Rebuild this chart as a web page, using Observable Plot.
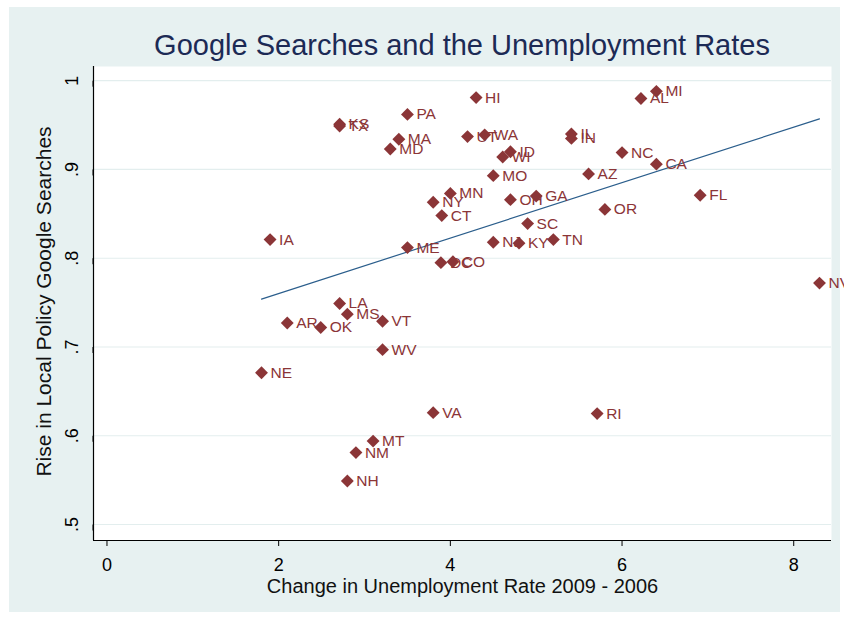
<!DOCTYPE html>
<html>
<head>
<meta charset="utf-8">
<script src="https://cdn.jsdelivr.net/npm/d3@7"></script>
<script src="https://cdn.jsdelivr.net/npm/@observablehq/plot@0.6"></script>
<style>
  body { margin: 0; background: #ffffff; }
  #wrap { position: relative; width: 844px; height: 619px; overflow: hidden; font-family: "Liberation Sans", Arial, sans-serif; }
  #bg { position: absolute; left: 9px; top: 7px; width: 831px; height: 605px; background: #e7f1f1; }
  #title { position: absolute; left: 62px; width: 800px; top: 28px; text-align: center; font-size: 29px; line-height: 34px; color: #1c2a55; }
  #chart { position: absolute; left: 0; top: 0; }
</style>
</head>
<body>
<div id="wrap">
  <div id="bg"></div>
  <div id="chart"></div>
  <div id="title">Google Searches and the Unemployment Rates</div>
</div>
<script>
// State abbreviations
const states = ["NV","MI","AL","HI","PA","KS","TX","MA","MD","UT","WA","ID","WI","MO","MN","NY","CT","OH","GA","SC","IA","ME","NJ","KY","TN","DC","CO","IL","IN","NC","CA","AZ","FL","OR","LA","MS","AR","OK","VT","WV","NE","VA","RI","MT","NM","NH"];
// Change in unemployment rate 2009 - 2006
const unempChange = [8.30,6.40,6.22,4.30,3.50,2.71,2.71,3.40,3.30,4.20,4.40,4.70,4.61,4.50,4.00,3.80,3.90,4.70,5.00,4.90,1.90,3.50,4.50,4.80,5.20,3.89,4.03,5.41,5.41,6.00,6.40,5.61,6.91,5.80,2.71,2.80,2.10,2.49,3.21,3.21,1.80,3.80,5.71,3.10,2.90,2.80];
// Rise in local policy Google searches
const searchRise = [0.772,0.988,0.980,0.981,0.962,0.951,0.949,0.934,0.923,0.937,0.939,0.920,0.914,0.893,0.873,0.863,0.848,0.866,0.870,0.839,0.821,0.812,0.818,0.817,0.821,0.795,0.796,0.940,0.935,0.919,0.906,0.895,0.871,0.855,0.749,0.737,0.727,0.722,0.729,0.697,0.671,0.626,0.625,0.594,0.581,0.549];
// Fitted line end points
const fitX = [1.80, 8.30];
const fitY = [0.754, 0.957];
// Ticks
const xTicks = [0, 2, 4, 6, 8];
const yTicks = [0.5, 0.6, 0.7, 0.8, 0.9, 1];
const yTickLabels = [".5", ".6", ".7", ".8", ".9", "1"];
const xDomain = [-0.157, 8.44];
const yDomain = [0.482, 1.016];

const rows = states.map((s, i) => ({state: s, x: unempChange[i], y: searchRise[i]}));
const fit = fitX.map((x, i) => ({x, y: fitY[i]}));
const markerColor = "#8b3537";

const chart = Plot.plot({
  width: 844,
  height: 619,
  marginLeft: 93,
  marginRight: 13,
  marginTop: 66,
  marginBottom: 79,
  style: { background: "transparent", fontFamily: "'Liberation Sans', Arial, sans-serif", fontSize: "18px", color: "#000" },
  x: { domain: xDomain },
  y: { domain: yDomain },
  marks: [
    Plot.frame({ fill: "white" }),
    Plot.gridY(yTicks, { stroke: "#e3eeee", strokeOpacity: 1, strokeWidth: 1.2 }),
    Plot.line(fit, { x: "x", y: "y", stroke: "#2b5e8c", strokeWidth: 1.2 }),
    Plot.text(rows, { x: "x", y: "y", text: "state", dx: 9, textAnchor: "start", fill: markerColor, fontSize: 15.5 }),
    Plot.dot(rows, { x: "x", y: "y", symbol: "diamond2", r: 5.8, fill: markerColor, stroke: "none" }),
    Plot.ruleX([xDomain[0]], { stroke: "#000", strokeWidth: 1.2 }),
    Plot.ruleY([yDomain[0]], { stroke: "#000", strokeWidth: 1.2 }),
    Plot.axisX({ ticks: xTicks, tickSize: 6, tickPadding: 12, fontSize: 18, label: null, stroke: "#000" }),
    Plot.axisY({ ticks: yTicks, tickSize: 6, tickPadding: 15, fontSize: 18, label: null, rotate: -90, textAnchor: "middle",
      tickFormat: d => yTickLabels[yTicks.indexOf(d)] }),
    Plot.text(["Change in Unemployment Rate 2009 - 2006"], { frameAnchor: "bottom", text: d => d, dy: 46, textAnchor: "middle", lineAnchor: "middle", fontSize: 20, fill: "#111" }),
    Plot.text(["Rise in Local Policy Google Searches"], { frameAnchor: "left", text: d => d, dx: -49, dy: -2, rotate: -90, textAnchor: "middle", lineAnchor: "middle", fontSize: 21, fill: "#111" })
  ]
});
document.getElementById("chart").appendChild(chart);
</script>
</body>
</html>
